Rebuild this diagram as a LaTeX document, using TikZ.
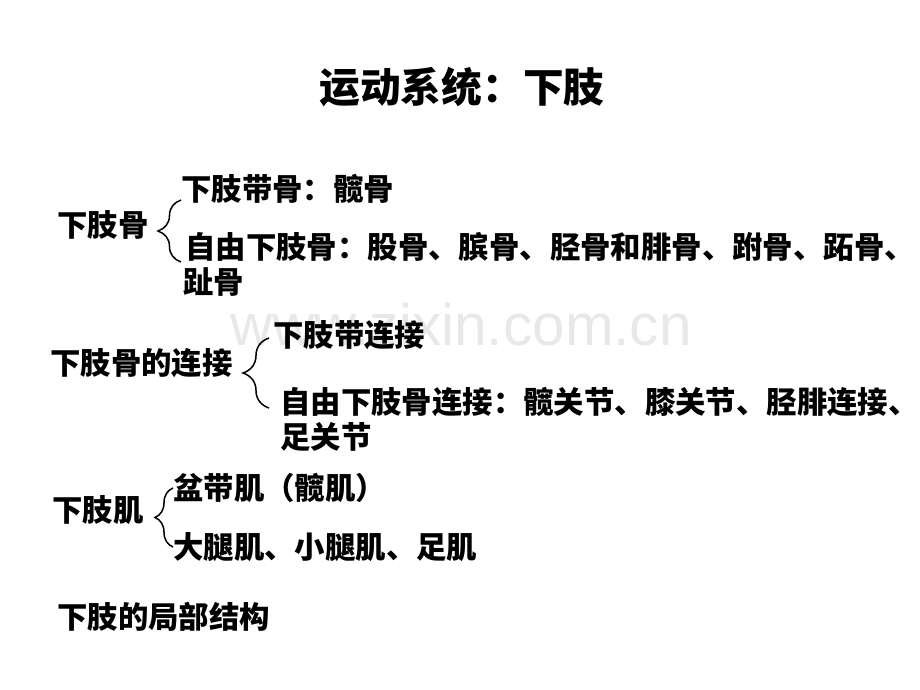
\documentclass[tikz,border=0pt]{standalone}
\usepackage{fontspec}
\newfontfamily\cjk{Noto Sans CJK SC}
\newfontfamily\wmfont{Liberation Sans}
\usetikzlibrary{decorations.pathreplacing}
\begin{document}
\begin{tikzpicture}[x=1bp,y=-1bp,item/.style={anchor=base west,inner sep=0pt,font=\cjk\bfseries\fontsize{30.4bp}{36bp}\selectfont},head/.style={item,anchor=base,font=\cjk\bfseries\fontsize{40.7bp}{48bp}\selectfont},curly/.style={decorate,decoration={brace,amplitude=#1},line width=1.5bp}]
\def\xa{57};
\def\xb{181};
\useasboundingbox (0,0) rectangle (920,690);

% watermark behind everything
\node[anchor=base west,inner sep=0pt,text=black!9,font=\wmfont\fontsize{58.5bp}{60bp}\selectfont] (wm) at (230,345) {www.zixin.com.cn};

\node[head] (title) at (462,102.5) {运动系统：下肢};

% bones
\node[item] (bone) at (\xa,236.5) {下肢骨};
\node[item] (bone1) at (\xb,200.5) {下肢带骨：髋骨};
\node[item] (bone2) at (185,258.5) {自由下肢骨：股骨、膑骨、胫骨和腓骨、跗骨、跖骨、};
\node[item] (bone3) at (183,293.5) {趾骨};
\coordinate (b1t) at (181,200);
\coordinate (b1b) at (181,262);
\draw[curly=23bp] (b1b) -- (b1t);

% joints
\node[item] (joint) at (50,374.5) {下肢骨的连接};
\node[item] (joint1) at (273,346.5) {下肢带连接};
\node[item] (joint2) at (280,413.5) {自由下肢骨连接：髋关节、膝关节、胫腓连接、};
\node[item] (joint3) at (280,448.5) {足关节};
\coordinate (b2t) at (269,338);
\coordinate (b2b) at (269,408);
\draw[curly=26bp] (b2b) -- (b2t);

% muscles
\node[item] (muscle) at (52,521.5) {下肢肌};
\node[item] (muscle1) at (173,499.5) {盆带肌（髋肌）};
\node[item] (muscle2) at (173,558.5) {大腿肌、小腿肌、足肌};
\coordinate (b3t) at (173,488);
\coordinate (b3b) at (173,547);
\draw[curly=18bp] (b3b) -- (b3t);

\node[item] (region) at (\xa,628.5) {下肢的局部结构};
\end{tikzpicture}
\end{document}
